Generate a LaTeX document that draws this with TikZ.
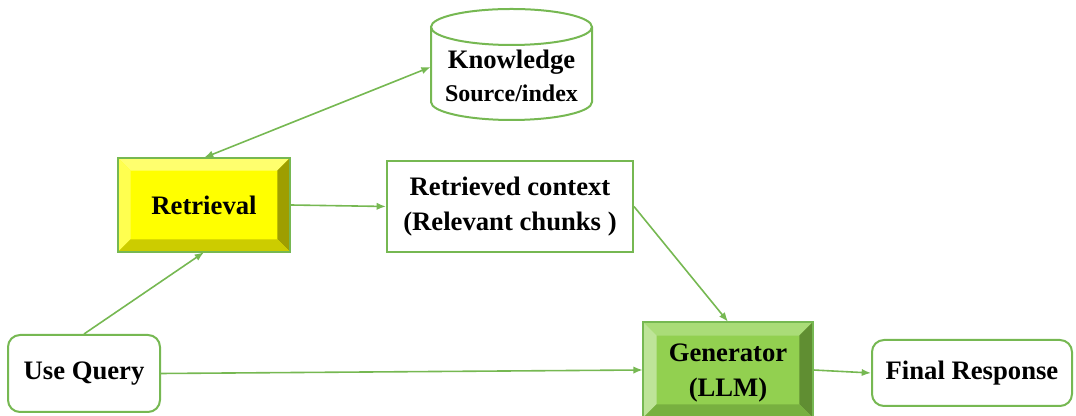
\documentclass[tikz,border=0pt]{standalone}
\usepackage{fontspec}
\setmainfont{Liberation Serif}
\usepackage{tikz}
\usetikzlibrary{arrows.meta, calc}

\definecolor{linegreen}{RGB}{118,184,82}
\definecolor{retfill}{RGB}{255,255,0}
\definecolor{rettop}{RGB}{255,255,110}
\definecolor{retleft}{RGB}{255,255,80}
\definecolor{retright}{RGB}{158,158,0}
\definecolor{retbottom}{RGB}{204,204,0}
\definecolor{genfill}{RGB}{146,208,80}
\definecolor{gentop}{RGB}{170,220,120}
\definecolor{genleft}{RGB}{190,228,152}
\definecolor{genright}{RGB}{96,142,50}
\definecolor{genbottom}{RGB}{120,176,64}

% bevelled faces of a box: node, width, top, left, right, bottom
\newcommand{\bevelbox}[6]{
  \fill[#3] (#1.north west) -- (#1.north east) -- ($(#1.north east)+(-#2,-#2)$) -- ($(#1.north west)+(#2,-#2)$) -- cycle;
  \fill[#4] (#1.north west) -- ($(#1.north west)+(#2,-#2)$) -- ($(#1.south west)+(#2,#2)$) -- (#1.south west) -- cycle;
  \fill[#5] (#1.north east) -- (#1.south east) -- ($(#1.south east)+(-#2,#2)$) -- ($(#1.north east)+(-#2,-#2)$) -- cycle;
  \fill[#6] (#1.south west) -- ($(#1.south west)+(#2,#2)$) -- ($(#1.south east)+(-#2,#2)$) -- (#1.south east) -- cycle;
  \draw[line width=1.5pt, linegreen] (#1.north west) rectangle (#1.south east);
}

\begin{document}
\begin{tikzpicture}[x=0.75pt, y=0.75pt,
    txt/.style={font=\fontsize{20}{23}\selectfont\bfseries, align=center, inner sep=0pt},
    plainbox/.style={txt, draw=linegreen, line width=1.5pt, fill=white},
    roundbox/.style={plainbox, rounded corners=9pt},
    arrow/.style={linegreen, line width=1.2pt, -{Latex[length=7pt, width=5.5pt]}},
    twoarrow/.style={linegreen, line width=1.2pt, {Latex[length=7pt, width=5.5pt]}-{Latex[length=7pt, width=5.5pt]}}]
  \useasboundingbox (0,0) rectangle (1076,416);

  % ----- Knowledge store -----
  \draw[linegreen, line width=1.5pt, fill=white] (431,389) -- (431,314) arc (180:360:80.5 and 18) -- (592,389);
  \draw[linegreen, line width=1.5pt, fill=white] (511.5,389) ellipse (80.5 and 18);
  \node[txt, minimum width=120.75pt, minimum height=10pt] (know) at (511.5,340) {Knowledge\\[2pt]{\fontsize{18}{20}\selectfont Source/index}};

  % ----- Boxes -----
  \node[txt, fill=retfill, minimum width=129pt, minimum height=70.5pt] (ret) at (204,211) {Retrieval};
  \bevelbox{ret}{13}{rettop}{retleft}{retright}{retbottom}

  \node[plainbox, minimum width=184.5pt, minimum height=68.25pt] (ctx) at (510,209.5) {Retrieved context\\[3pt](Relevant chunks )};

  \node[roundbox, minimum width=114pt, minimum height=57.75pt] (uq) at (84,42.5) {Use Query};

  \node[txt, fill=genfill, minimum width=127.5pt, minimum height=72pt] (gen) at (728,46) {};
  \bevelbox{gen}{14}{gentop}{genleft}{genright}{genbottom}
  \node[txt] at ($(gen)+(0,-3)$) {Generator\\[3pt](LLM)};

  \node[roundbox, minimum width=150pt, minimum height=49.5pt] (fin) at (972,43) {Final Response};

  % ----- Connectors -----
  \draw[twoarrow] ($(know.west)+(0,9)$) -- (ret.north);
  \draw[arrow] (ret.east) -- (ctx.west);
  \draw[arrow] (uq.north) -- (ret.south);
  \draw[arrow] (uq.east) -- (gen.west);
  \draw[arrow] (ctx.east) -- (gen.north);
  \draw[arrow] (gen.east) -- (fin.west);
\end{tikzpicture}
\end{document}
